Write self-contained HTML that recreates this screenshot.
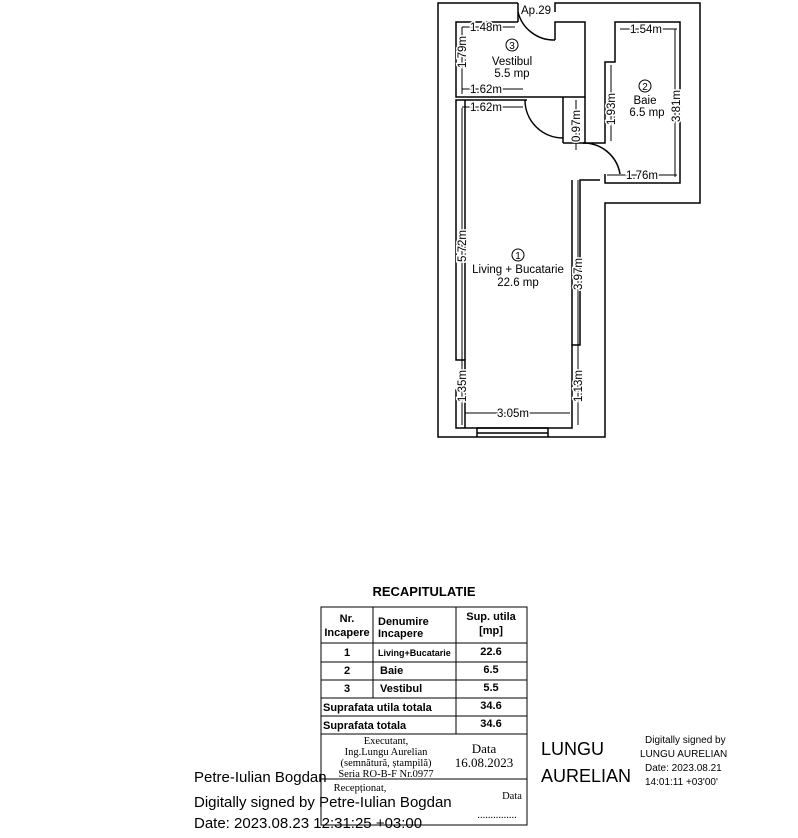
<!DOCTYPE html>
<html><head><style>
body{margin:0;background:#fff;width:798px;height:838px;overflow:hidden;position:relative;font-family:"Liberation Sans",sans-serif}
</style></head><body>
<svg width="798" height="838" style="position:absolute;left:0;top:0" font-family="Liberation Sans" font-size="11">
<g fill="none" stroke="#000" stroke-width="1.5">
<polyline points="518,3 438,3 438,437 605,437 605,203 700,203 700,3 555,3 555,12"/>
<polyline points="518,22 456,22 456,97 585,97 585,22 555,22 555,40"/>
<line x1="518" y1="3" x2="518" y2="22"/>
<path d="M518,12 A37,37 0 0 0 555,40"/>
<polyline points="527,100 456,100 456,360 465,360 465,390 456,390 456,428 572,428 572,345 580,345 580,180 600,180"/>
<line x1="465" y1="100" x2="465" y2="360"/>
<line x1="465" y1="390" x2="465" y2="428"/>
<line x1="572" y1="180" x2="572" y2="345"/>
<polyline points="563,143 563,97"/>
<polyline points="585,97 585,143 563,143"/>
<path d="M525,100 A38,38 0 0 0 563,138"/>
<polyline points="583,143 605,143 605,62 615,62 615,22 680,22 680,183 605,183 605,174"/>
<path d="M583,143 A37,37 0 0 1 620,174"/>
<polyline points="477,437 477,428 548,428 548,437"/>
<line x1="477" y1="433" x2="548" y2="433"/>
</g>
<g stroke="#000" stroke-width="1">
<line x1="462" y1="27" x2="515" y2="27"/>
<line x1="462" y1="27" x2="462" y2="94"/>
<line x1="462" y1="89" x2="523" y2="89"/>
<line x1="462" y1="107" x2="523" y2="107"/>
<line x1="620" y1="29" x2="677" y2="29"/>
<line x1="675" y1="29" x2="675" y2="177"/>
<line x1="611" y1="65" x2="611" y2="141"/>
<line x1="576" y1="100" x2="576" y2="150"/>
<line x1="607" y1="175" x2="677" y2="175"/>
<line x1="462" y1="108" x2="462" y2="425"/>
<line x1="578" y1="180" x2="578" y2="425"/>
<line x1="465" y1="413" x2="570" y2="413"/>
</g>
<circle cx="512" cy="45" r="6" fill="none" stroke="#000"/>
<circle cx="645" cy="86" r="6" fill="none" stroke="#000"/>
<circle cx="518" cy="255" r="6" fill="none" stroke="#000"/>
<g font-size="10" text-anchor="middle">
<text x="512" y="49">3</text><text x="645" y="90">2</text><text x="518" y="259">1</text>
</g>
<g font-size="11.5" fill="#000">
<rect x="520" y="4" width="34" height="12" fill="#fff"/>
<text x="521" y="14">Ap.29</text>
<g stroke="#fff" stroke-width="3" paint-order="stroke">
<text x="470" y="31">1.48m</text>
<text x="470" y="93">1.62m</text>
<text x="470" y="111">1.62m</text>
<text x="630" y="33">1.54m</text>
<text x="626" y="179">1.76m</text>
<text x="497" y="417">3.05m</text>
</g>
<text x="512" y="65" text-anchor="middle">Vestibul</text>
<text x="512" y="77" text-anchor="middle">5.5 mp</text>
<text x="645" y="104" text-anchor="middle">Baie</text>
<text x="647" y="116" text-anchor="middle">6.5 mp</text>
<text x="518" y="273" text-anchor="middle">Living + Bucatarie</text>
<text x="518" y="286" text-anchor="middle">22.6 mp</text>
<g stroke="#fff" stroke-width="3" paint-order="stroke">
<text transform="translate(466,68) rotate(-90)">1.79m</text>
<text transform="translate(615,125) rotate(-90)">1.93m</text>
<text transform="translate(680,122) rotate(-90)">3.81m</text>
<text transform="translate(580,142) rotate(-90)">0.97m</text>
<text transform="translate(466,262) rotate(-90)">5.72m</text>
<text transform="translate(582,290) rotate(-90)">3.97m</text>
<text transform="translate(466,402) rotate(-90)">1.35m</text>
<text transform="translate(582,402) rotate(-90)">1.13m</text>
</g>
</g>
<g fill="none" stroke="#000" stroke-width="1">
<rect x="321" y="607" width="206" height="218"/>
<line x1="321" y1="643" x2="527" y2="643"/>
<line x1="321" y1="662" x2="527" y2="662"/>
<line x1="321" y1="680" x2="527" y2="680"/>
<line x1="321" y1="698" x2="527" y2="698"/>
<line x1="321" y1="716" x2="527" y2="716"/>
<line x1="321" y1="734" x2="527" y2="734"/>
<line x1="321" y1="779" x2="527" y2="779"/>
<line x1="373" y1="607" x2="373" y2="698"/>
<line x1="456" y1="607" x2="456" y2="734"/>
</g>
<g font-weight="bold" font-size="11" fill="#000">
<text x="424" y="596" text-anchor="middle" font-size="13">RECAPITULATIE</text>
<text x="347" y="622" text-anchor="middle">Nr.</text>
<text x="347" y="636" text-anchor="middle">Incapere</text>
<text x="378" y="625">Denumire</text>
<text x="378" y="637">Incapere</text>
<text x="491" y="620" text-anchor="middle">Sup. utila</text>
<text x="491" y="634" text-anchor="middle">[mp]</text>
<text x="347" y="656" text-anchor="middle">1</text>
<text x="378" y="656" font-size="9">Living+Bucatarie</text>
<text x="491" y="655" text-anchor="middle">22.6</text>
<text x="347" y="674" text-anchor="middle">2</text><text x="380" y="674">Baie</text><text x="491" y="673" text-anchor="middle">6.5</text>
<text x="347" y="692" text-anchor="middle">3</text><text x="380" y="692">Vestibul</text><text x="491" y="691" text-anchor="middle">5.5</text>
<text x="323" y="711">Suprafata utila totala</text><text x="491" y="709" text-anchor="middle">34.6</text>
<text x="323" y="729">Suprafata totala</text><text x="491" y="727" text-anchor="middle">34.6</text>
</g>
<g font-family="Liberation Serif" font-size="10.5" fill="#000" text-anchor="middle">
<text x="386" y="744">Executant,</text>
<text x="386" y="755">Ing.Lungu Aurelian</text>
<text x="386" y="766">(semnătură, ștampilă)</text>
<text x="386" y="777">Seria RO-B-F Nr.0977</text>
<text x="484" y="753" font-size="13">Data</text>
<text x="484" y="767" font-size="13">16.08.2023</text>
<text x="360" y="791">Recepționat,</text>
<text x="512" y="799">Data</text>
<text x="497" y="818">...............</text>
</g>
<g font-size="15" fill="#000">
<text x="194" y="782">Petre-Iulian Bogdan</text>
<text x="194" y="807">Digitally signed by Petre-Iulian Bogdan</text>
<text x="194" y="828">Date: 2023.08.23 12:31:25 +03:00</text>
</g>
<g font-size="18" fill="#000">
<text x="541" y="755">LUNGU</text>
<text x="541" y="782">AURELIAN</text>
</g>
<g font-size="10" fill="#000">
<text x="645" y="743">Digitally signed by</text>
<text x="640" y="757">LUNGU AURELIAN</text>
<text x="645" y="771">Date: 2023.08.21</text>
<text x="645" y="785">14:01:11 +03'00'</text>
</g>
</svg>
</body></html>
